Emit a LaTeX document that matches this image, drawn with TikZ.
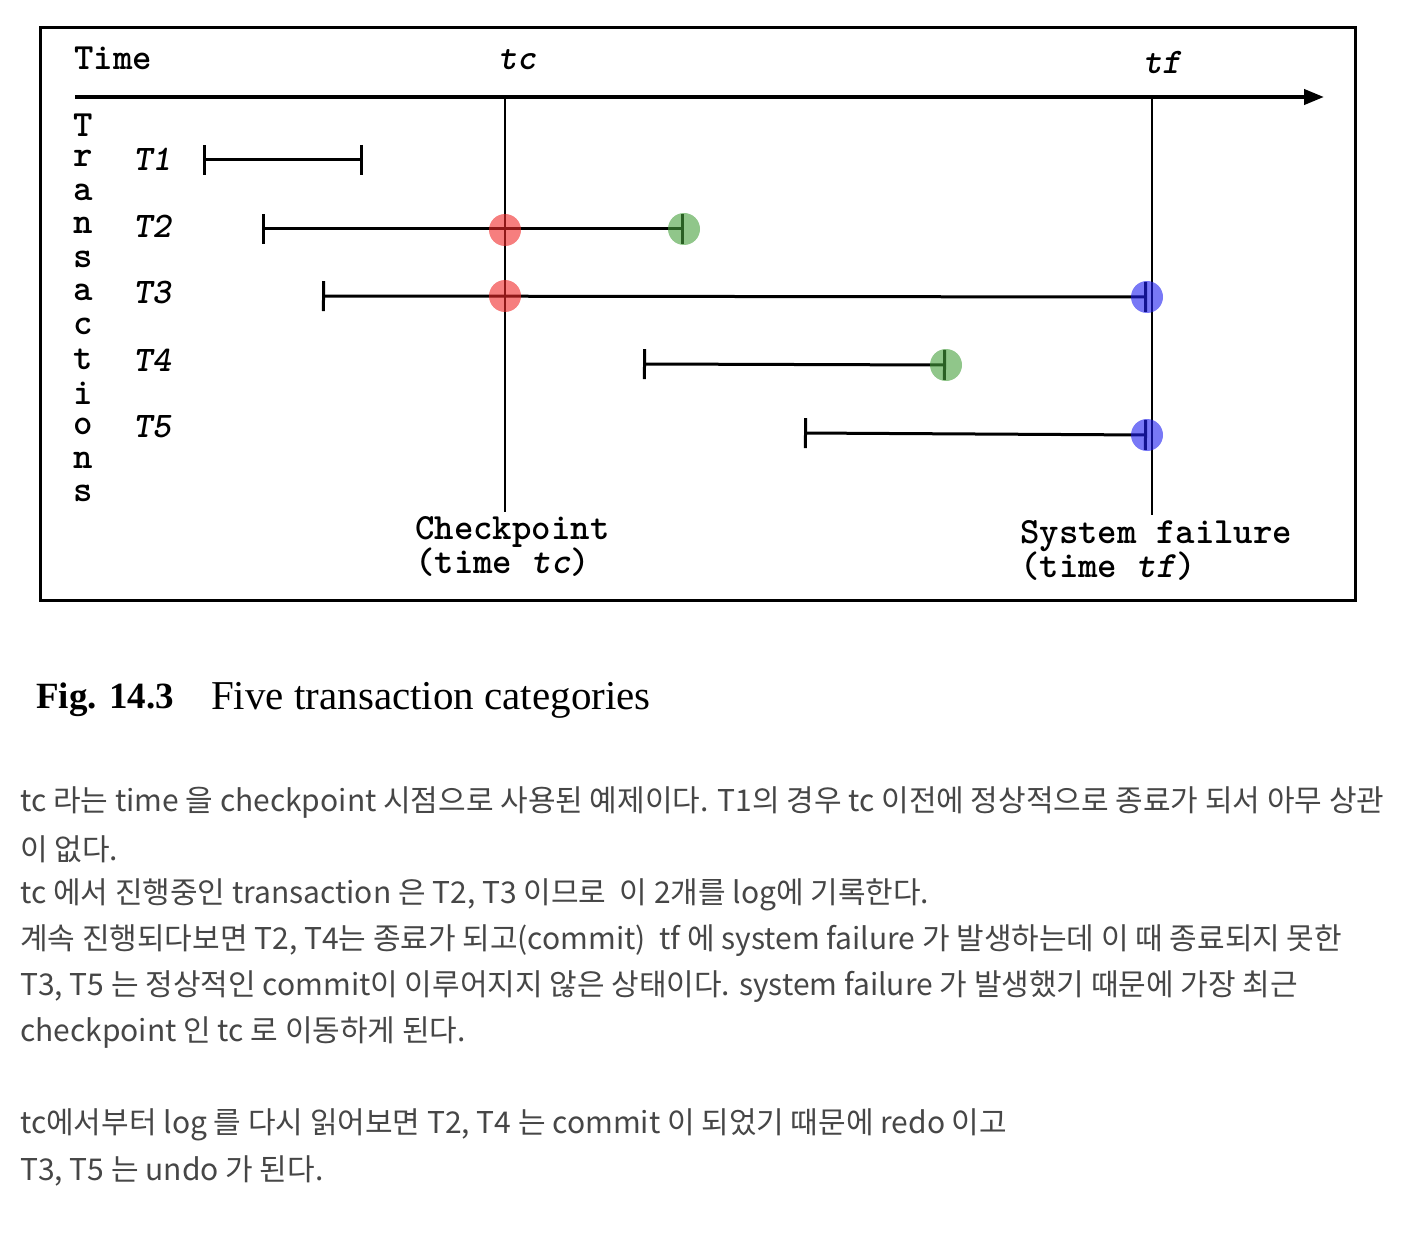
\documentclass[tikz,border=0pt]{standalone}
\usepackage{fontspec}
\newfontfamily\krfont{Noto Sans CJK KR}
\newfontfamily\capfont{Liberation Serif}
\usetikzlibrary{arrows.meta}
\usetikzlibrary{positioning}
\definecolor{dotred}{RGB}{240,40,40}
\definecolor{dotgreen}{RGB}{70,160,60}
\definecolor{dotblue}{RGB}{30,30,240}
\definecolor{textgray}{RGB}{70,70,70}

\begin{document}
\begin{tikzpicture}[x=1pt,y=-1pt,
    tt/.style={font=\fontsize{37}{34}\selectfont\ttfamily\bfseries},
    tname/.style={font=\fontsize{36}{34}\selectfont\ttfamily\bfseries\itshape},
    span/.style={line width=3pt,{Bar[width=30pt]}-{Bar[width=30pt]}},
    dot/.style={circle,minimum size=32pt,inner sep=0pt,fill opacity=0.6},
    body/.style={anchor=west,inner sep=0pt,text=textgray,font=\fontsize{30}{32}\selectfont\krfont}]
    \useasboundingbox (0,0) rectangle (1420,1246);
    % frame and time axis
    \draw[line width=3pt] (40,28) rectangle (1355,600);
    \coordinate (axL) at (75,97);
    \coordinate (axR) at (1324,97);
    \draw[line width=4pt,-{Triangle[length=20pt,width=15pt]}] (axL) -- (axR);
    \node[tt] (time) at (113,58) {Time};
    \node[tname] (tc) at (517,60) {tc};
    \node[tname] (tf) at (1162,63) {tf};
    % checkpoint and failure lines
    \coordinate (tcTop) at (505,97);
    \coordinate (tcBot) at (505,512);
    \coordinate (tfTop) at (1152,97);
    \coordinate (tfBot) at (1152,515);
    \draw[line width=2.5pt] (tcTop) -- (tcBot);
    \draw[line width=2.5pt] (tfTop) -- (tfBot);
    \node[tt,anchor=north west,align=left,inner sep=0pt] (chk) at (415,516) {Checkpoint\\(time \textit{tc})};
    \node[tt,anchor=north west,align=left,inner sep=0pt] (fail) at (1020,520) {System failure\\(time \textit{tf})};
    % vertical label
    \foreach \ch [count=\i] in {T,r,a,n,s,a,c,t,i,o,n,s}
        \node[tt,inner sep=0pt] (tr\i) at (83,{125+33.5*(\i-1)}) {\ch};
    % transactions
    \node[tname] (t1) at (152,159) {T1};
    \node[tname] (t2) at (152,226) {T2};
    \node[tname] (t3) at (152,293) {T3};
    \node[tname] (t4) at (152,360) {T4};
    \node[tname] (t5) at (152,427) {T5};
    \coordinate (s1) at (203,160);  \coordinate (e1) at (363,160);
    \coordinate (s2) at (262,229);  \coordinate (e2) at (684,229);
    \coordinate (s3) at (322,296);  \coordinate (e3) at (1147,297);
    \coordinate (s4) at (643,364);  \coordinate (e4) at (946,365);
    \coordinate (s5) at (804,433);  \coordinate (e5) at (1147,435);
    \draw[span] (s1) -- (e1);
    \draw[span] (s2) -- (e2);
    \draw[span] (s3) -- (e3);
    \draw[span] (s4) -- (e4);
    \draw[span] (s5) -- (e5);
    \node[dot,fill=dotred] (r2) at (505,230) {};
    \node[dot,fill=dotred] (r3) at (505,296) {};
    \node[dot,fill=dotgreen] (g2) at (e2) {};
    \node[dot,fill=dotgreen] (g4) at (e4) {};
    \node[dot,fill=dotblue] (b3) at (e3) {};
    \node[dot,fill=dotblue] (b5) at (e5) {};
    % caption
    \node[anchor=west,inner sep=0pt,font=\fontsize{37}{40}\selectfont\capfont\bfseries] (fig) at (36,700) {Fig. 14.3};
    \node[anchor=west,inner sep=0pt,font=\fontsize{41}{44}\selectfont\capfont] (cap) at (211,700) {Five transaction categories};
    % text below
    \node[body] (l1) at (20,803) {tc 라는 time 을 checkpoint 시점으로 사용된 예제이다. T1의 경우 tc 이전에 정상적으로 종료가 되서 아무 상관};
    \node[body] (l2) at (20,849) {이 없다.};
    \node[body] (l3) at (20,895) {tc 에서 진행중인 transaction 은 T2, T3 이므로\ \ 이 2개를 log에 기록한다.};
    \node[body] (l4) at (20,941) {계속 진행되다보면 T2, T4는 종료가 되고(commit)\ \ tf 에 system failure 가 발생하는데 이 때 종료되지 못한};
    \node[body] (l5) at (20,987) {T3, T5 는 정상적인 commit이 이루어지지 않은 상태이다. system failure 가 발생했기 때문에 가장 최근};
    \node[body] (l6) at (20,1033) {checkpoint 인 tc 로 이동하게 된다.};
    \node[body] (l7) at (20,1125) {tc에서부터 log 를 다시 읽어보면 T2, T4 는 commit 이 되었기 때문에 redo 이고};
    \node[body] (l8) at (20,1171) {T3, T5 는 undo 가 된다.};
\end{tikzpicture}
\end{document}
